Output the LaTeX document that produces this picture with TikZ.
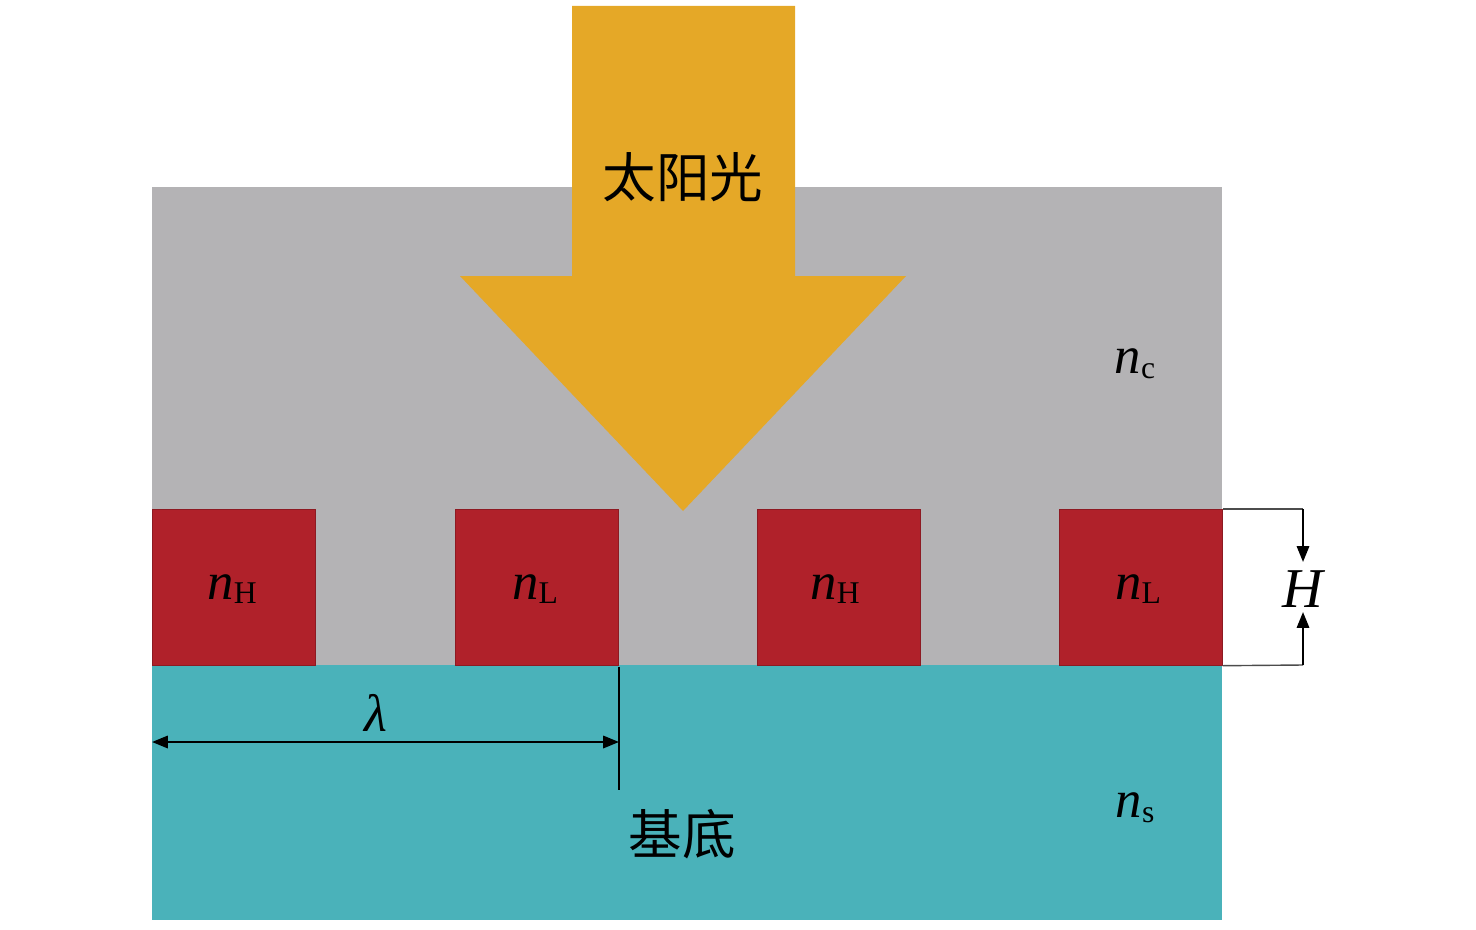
\documentclass[tikz,border=0pt]{standalone}
\usepackage{fontspec}
\setmainfont{Liberation Serif}
\newfontfamily\cjk{Noto Sans CJK SC}
\usetikzlibrary{arrows.meta}
\definecolor{greyfill}{RGB}{180,179,181}
\definecolor{redfill}{RGB}{176,33,42}
\definecolor{cyanfill}{RGB}{74,178,186}
\definecolor{orangefill}{RGB}{229,168,39}
\newcommand{\nsym}[1]{{\fontsize{30}{30}\selectfont\itshape n}\raisebox{-0.6ex}{\fontsize{18}{18}\selectfont #1}}
\tikzset{
  block/.style={fill=redfill, draw=redfill!80!black, line width=0.4pt, minimum width=163*0.02cm, minimum height=156*0.02cm, inner sep=0pt, anchor=north west},
  lbl/.style={inner sep=0pt, text=black},
  dimline/.style={draw=black!70, line width=0.8pt},
  dimarrow/.style={draw=black, line width=1.2pt, -{Triangle[length=9pt,width=7pt]}},
  cjklbl/.style={inner sep=0pt, font=\cjk\fontsize{30.5}{30.5}\selectfont}
}
\begin{document}
\begin{tikzpicture}[x=0.02cm,y=-0.02cm]
\useasboundingbox (0,0) rectangle (1476,929);
% layers
\fill[greyfill] (152,187) rectangle (1222,666);
\fill[cyanfill] (152,665) rectangle (1222,920);
% blocks
\node[block] (b1) at (152,509) {};
\node[block] (b2) at (455,509) {};
\node[block] (b3) at (757,509) {};
\node[block] (b4) at (1059,509) {};
\node[lbl] (l1) at (232,589) {\nsym{H}};
\node[lbl] (l2) at (535,589) {\nsym{L}};
\node[lbl] (l3) at (835,589) {\nsym{H}};
\node[lbl] (l4) at (1138,589) {\nsym{L}};
% sun arrow
\fill[orangefill] (572,6) -- (795,6) -- (795,276) -- (906,276) -- (683,511) -- (460,276) -- (572,276) -- cycle;
\node[cjklbl] (sun) at (683,177) {太阳光};
\node[cjklbl] (sub) at (682,834) {基底};
\node[lbl] (nc) at (1135,364) {\nsym{c}};
\node[lbl] (ns) at (1135,808) {\nsym{s}};
% H dimension
\coordinate (ht) at (1303,509);
\coordinate (hb) at (1303,665);
\coordinate (hta) at (1303,562);
\coordinate (hba) at (1303,612);
\draw[dimline] (b4.north east) -- (ht);
\draw[dimline] (b4.south east) -- (hb);
\draw[dimarrow] (ht) -- (hta);
\draw[dimarrow] (hb) -- (hba);
\node[lbl] (hl) at (1303,589) {\fontsize{32}{32}\selectfont\itshape H};
% lambda dimension
\coordinate (vt) at (619,667);
\coordinate (vb) at (619,790);
\coordinate (la) at (152,742);
\coordinate (lb) at (619,742);
\draw[black, line width=1.5pt] (vt) -- (vb);
\draw[black, line width=1.3pt, {Triangle[length=9pt,width=7pt]}-{Triangle[length=9pt,width=7pt]}] (la) -- (lb);
\node[lbl] (lam) at (376,713) {\fontsize{30}{30}\selectfont\itshape λ};
\end{tikzpicture}
\end{document}
